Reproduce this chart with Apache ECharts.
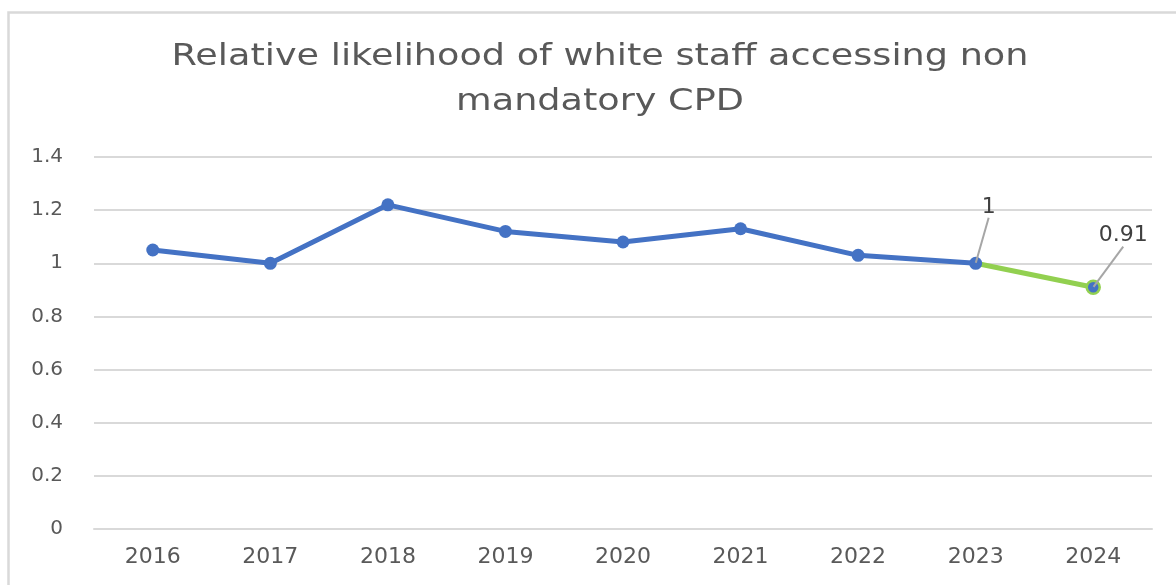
<!DOCTYPE html>
<html>
<head>
<meta charset="utf-8">
<script src="https://cdn.jsdelivr.net/npm/echarts@6/dist/echarts.min.js"></script>
<style>
  html, body { margin: 0; padding: 0; background: #fff; }
  #chart { width: 1176px; height: 585px; }
</style>
</head>
<body>
<div id="chart"></div>
<script>
// Relative likelihood of white staff accessing non-mandatory CPD, by year
const years = ['2016', '2017', '2018', '2019', '2020', '2021', '2022', '2023', '2024'];
const likelihood = [1.05, 1.00, 1.22, 1.12, 1.08, 1.13, 1.03, 1.00, 0.91];
const yTicks = { min: 0, max: 1.4, interval: 0.2 };
const labelledYears = ['2023', '2024'];
const titleLines = ['Relative likelihood of white staff accessing non', 'mandatory CPD'];

const BLUE = '#4472C4';
const GREEN = '#92D050';
const TEXT = '#595959';
const FONT = 'DejaVu Sans';

const lastIdx = years.length - 1;

// Blue trace runs up to the second-to-last year
const blueData = likelihood.map((v, i) => (i < lastIdx ? v : '-'));
// Green trace covers only the final segment
const greenData = likelihood.map((v, i) => (i >= lastIdx - 1 ? v : '-'));

// Shift of the value labels away from their points (px)
const labelOffsets = { '2023': [13, -40], '2024': [30, -35] };

const chart = echarts.init(document.getElementById('chart'), null, { renderer: 'canvas' });

// Title lines, slightly widened
const titleText = (str, y) => ({
  type: 'text',
  x: 600,
  y: y,
  scaleX: 1.22,
  originX: 0,
  originY: 0,
  style: {
    text: str,
    fill: TEXT,
    font: 'normal 30px "' + FONT + '"',
    textAlign: 'center',
    textVerticalAlign: 'middle'
  },
  silent: true
});

chart.setOption({
  animation: false,
  backgroundColor: '#fff',
  graphic: [
    {
      type: 'rect',
      shape: { x: 8.5, y: 12.5, width: 1200, height: 620 },
      style: { fill: 'none', stroke: '#d9d9d9', lineWidth: 2.5 },
      silent: true,
      z: -10
    },
    titleText(titleLines[0], 57),
    titleText(titleLines[1], 102)
  ],
  grid: { left: 94, right: 24, top: 157, bottom: 56 },
  xAxis: {
    type: 'category',
    data: years,
    boundaryGap: true,
    axisLine: { show: true, lineStyle: { color: '#d9d9d9', width: 2 } },
    axisTick: { show: false },
    axisLabel: { color: TEXT, fontFamily: FONT, fontSize: 22, margin: 17 }
  },
  yAxis: {
    type: 'value',
    min: yTicks.min,
    max: yTicks.max,
    interval: yTicks.interval,
    axisLine: { show: false },
    axisTick: { show: false },
    axisLabel: {
      color: TEXT, fontFamily: FONT, fontSize: 20, margin: 31,
      formatter: v => String(+v.toFixed(1))
    },
    splitLine: { lineStyle: { color: '#d9d9d9', width: 2 } }
  },
  series: [
    {
      type: 'line',
      data: greenData.map((v, i) => {
        if (v === '-') return v;
        const item = { value: v };
        if (i === lastIdx) {
          item.symbol = 'circle';
          item.symbolSize = 13;
          item.itemStyle = { color: BLUE, borderColor: GREEN, borderWidth: 2.5 };
        } else {
          item.symbol = 'none';
        }
        return item;
      }),
      lineStyle: { color: GREEN, width: 5 },
      itemStyle: { color: GREEN },
      z: 2
    },
    {
      type: 'line',
      data: blueData,
      symbol: 'circle',
      symbolSize: 13,
      showAllSymbol: true,
      lineStyle: { color: BLUE, width: 5 },
      itemStyle: { color: BLUE },
      z: 3
    },
    {
      // value labels with leader lines for the last two years
      type: 'line',
      data: likelihood.map((v, i) => (labelledYears.includes(years[i]) ? v : '-')),
      symbol: 'circle',
      symbolSize: 1,
      showAllSymbol: true,
      itemStyle: { color: 'rgba(0,0,0,0)' },
      lineStyle: { width: 0, color: 'rgba(0,0,0,0)' },
      z: 4,
      label: {
        show: true,
        position: 'top',
        color: '#404040',
        fontFamily: FONT,
        fontSize: 22,
        formatter: p => String(p.value)
      },
      labelLine: {
        show: true,
        lineStyle: { color: '#a6a6a6', width: 2 }
      },
      labelLayout: p => {
        const off = labelOffsets[years[p.dataIndex]] || [0, 0];
        return { dx: off[0], dy: off[1] };
      }
    }
  ]
});
</script>
</body>
</html>
